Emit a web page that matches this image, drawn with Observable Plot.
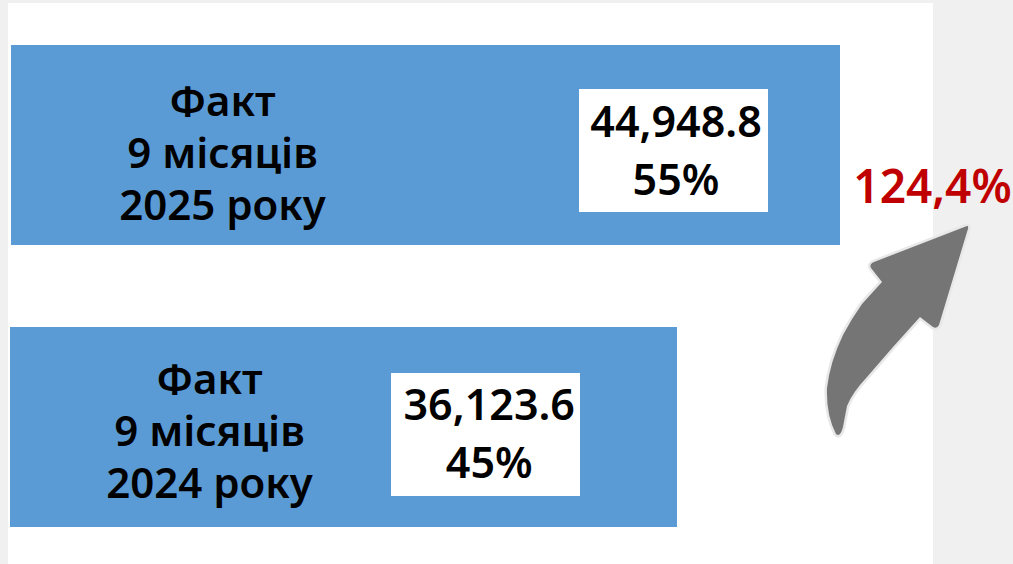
<!DOCTYPE html>
<html>
<head>
<meta charset="utf-8">
<script src="https://cdn.jsdelivr.net/npm/d3@7"></script>
<script src="https://cdn.jsdelivr.net/npm/@observablehq/plot@0.6"></script>
<style>
html,body{margin:0;padding:0;width:1013px;height:564px;overflow:hidden;background:#f0f0f0;}
#panel{position:absolute;left:8px;top:3px;width:925px;height:561px;background:#fff;}
#chart{position:absolute;left:0;top:0;}
#chart svg{display:block;background:transparent;}
#arrow{position:absolute;left:0;top:0;}
</style>
</head>
<body>
<div id="panel"></div>
<div id="chart"></div>
<svg id="arrow" width="1013" height="564" viewBox="0 0 1013 564">
  <path d="M967,226 C969,226 968,229 967,232 L939,325 Q937,329 933,327 L920,317 L893,347 L867,377 Q852,393 847,406 Q845,416 843,427 Q840,438 836,434 Q826,415 827,388 Q830,362 843,335 Q852,318 862,304 L882,282 L871,268 Q869,264 874,262 Z"
    fill="#757575" stroke="#e8e8e8" stroke-width="5" stroke-linejoin="round" paint-order="stroke"/>
</svg>
<script>
const years = ["2025", "2024"];
const categories = ["Факт\n9 місяців\n2025 року", "Факт\n9 місяців\n2024 року"];
const values = [44948.8, 36123.6];
const shares = ["55%", "45%"];
const growth = "124,4%";

const rows = years.map((year, i) => ({year, category: categories[i], value: values[i], share: shares[i]}));
const fmt = d3.format(",.1f");
const font = "'Noto Sans', sans-serif";

const rowMarks = (year, o) => {
  const row = rows.filter(d => d.year === year);
  return [
    Plot.barX(row, {x1: 0, x2: "value", y: "year", fill: "#5b9bd5", insetLeft: o.barInset, shapeRendering: "crispEdges"}),
    Plot.barX(row, {x1: 0, x2: "value", y: "year", fill: "#fff", insetLeft: o.boxLeft, insetRight: o.boxRight, insetTop: o.boxTop, insetBottom: o.boxBottom, shapeRendering: "crispEdges"}),
    Plot.text(row, {x: 0, y: "year", text: "category", dx: o.catDx, dy: o.catDy, fontSize: 42, lineHeight: 1.24, fontWeight: 600, fontFamily: font, fill: "#000"}),
    Plot.text(row, {x: "value", y: "year", text: d => fmt(d.value) + "\n" + d.share, dx: o.valDx, dy: o.valDy, fontSize: 43, lineHeight: 1.36, fontWeight: 600, fontFamily: font, fill: "#000"})
  ];
};

const plot = Plot.plot({
  width: 1013,
  height: 564,
  margin: 0,
  x: {domain: [0, values[0]], range: [11, 840], axis: null},
  y: {domain: years, range: [45, 527], paddingInner: 0.2908, paddingOuter: 0, round: false, axis: null},
  marks: [
    ...rowMarks("2025", {barInset: 0, boxLeft: 568, boxRight: 72, boxTop: 44, boxBottom: 33, catDx: 211, catDy: 6, valDx: -164.5, valDy: 2}),
    ...rowMarks("2024", {barInset: -1, boxLeft: 380, boxRight: 97, boxTop: 46, boxBottom: 31, catDx: 198, catDy: 2, valDx: -188.5, valDy: 3}),
    Plot.text([growth], {frameAnchor: "top-left", textAnchor: "middle", dx: 932, dy: 170, text: d => d, fontSize: 46, fontWeight: 600, fontFamily: font, fill: "#c00000", style: {letterSpacing: "2px"}})
  ]
});
document.getElementById("chart").append(plot);
</script>
</body>
</html>
